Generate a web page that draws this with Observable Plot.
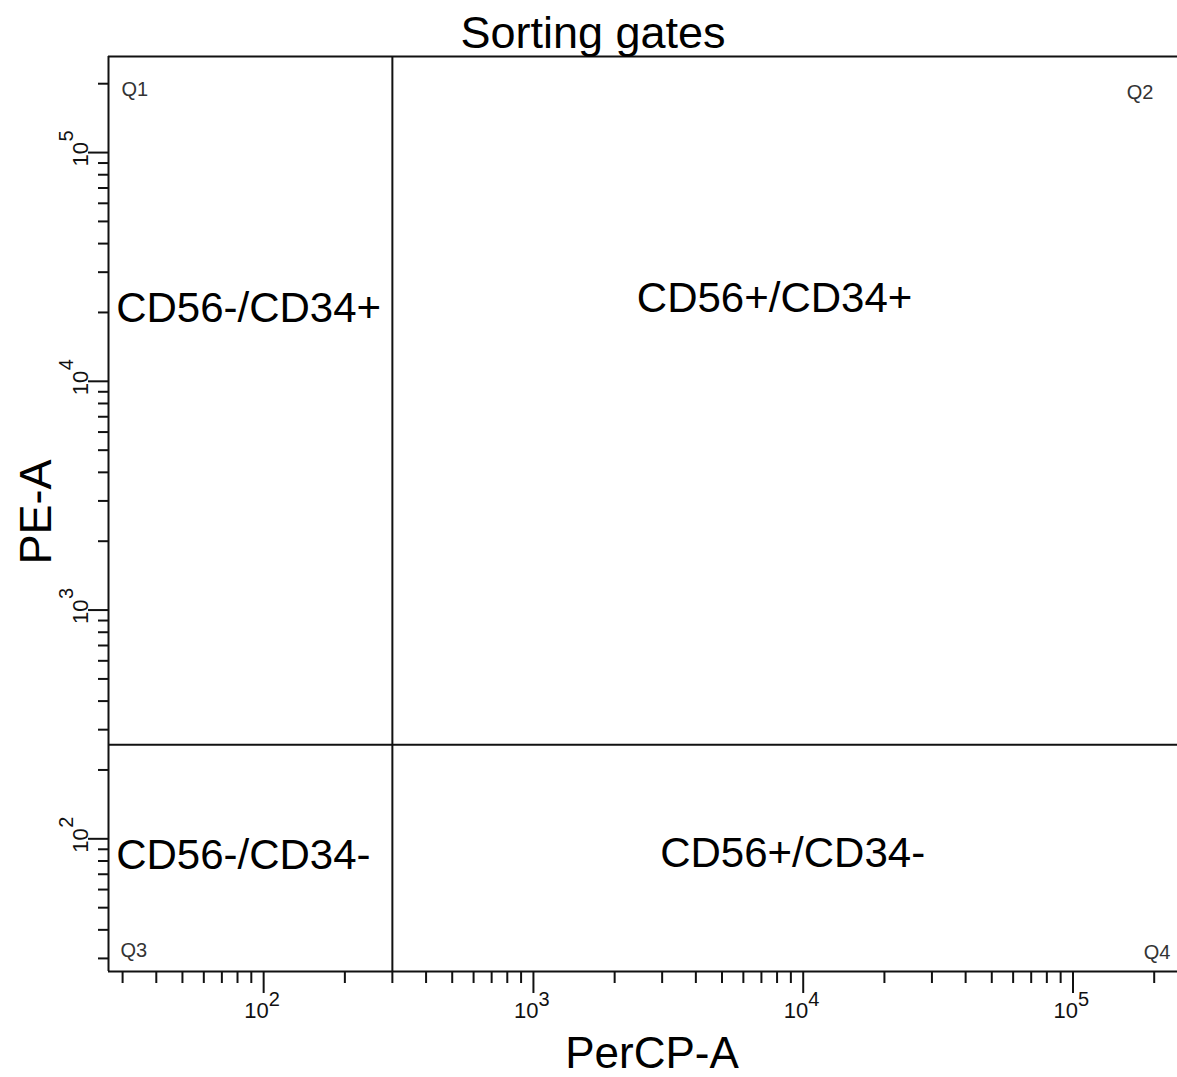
<!DOCTYPE html>
<html>
<head>
<meta charset="utf-8">
<script src="https://cdn.jsdelivr.net/npm/d3@7"></script>
<script src="https://cdn.jsdelivr.net/npm/@observablehq/plot@0.6"></script>
<style>
  html, body { margin: 0; padding: 0; background: #fff; }
  #chart svg { display: block; }
  #chart svg g[aria-label="x-axis tick"] path,
  #chart svg g[aria-label="y-axis tick"] path { stroke-width: 2; }
</style>
</head>
<body>
<div id="chart"></div>
<script>
// Axis ranges (log scales, fluorescence intensity)
const xDomain = [26.6, 244000];
const yDomain = [26.3, 263000];

// Quadrant gate thresholds
const gateX = 300;   // PerCP-A
const gateY = 258;   // PE-A

// Decade (major) and minor tick values
const xMajorTicks = [100, 1000, 10000, 100000];
const yMajorTicks = [100, 1000, 10000, 100000];
const xMinorTicks = [30, 40, 50, 60, 70, 80, 90,
  200, 300, 400, 500, 600, 700, 800, 900,
  2000, 3000, 4000, 5000, 6000, 7000, 8000, 9000,
  20000, 30000, 40000, 50000, 60000, 70000, 80000, 90000,
  200000];
const yMinorTicks = [30, 40, 50, 60, 70, 80, 90,
  200, 300, 400, 500, 600, 700, 800, 900,
  2000, 3000, 4000, 5000, 6000, 7000, 8000, 9000,
  20000, 30000, 40000, 50000, 60000, 70000, 80000, 90000,
  200000];

// Population names placed inside each quadrant (anchor in data units)
const populationNames = ["CD56-/CD34+", "CD56+/CD34+", "CD56-/CD34-", "CD56+/CD34-"];
const populationX = [28.4, 7830, 28.4, 9140];
const populationY = [20800, 23000, 84.3, 86];
const populationAnchor = ["start", "middle", "start", "middle"];

// Quadrant names in the corners
const quadrantNames = ["Q1", "Q2", "Q3", "Q4"];

const populations = populationNames.map((name, i) => ({
  name, x: populationX[i], y: populationY[i], anchor: populationAnchor[i]
}));
const leftPopulations = populations.filter(d => d.anchor === "start");
const rightPopulations = populations.filter(d => d.anchor === "middle");

const ink = "#111";
const font = "'Liberation Sans', Arial, sans-serif";

const chart = Plot.plot({
  width: 1177,
  height: 1077,
  marginLeft: 108,
  marginRight: 0,
  marginTop: 56,
  marginBottom: 106,
  style: { fontFamily: font, background: "#fff", color: ink },
  x: { type: "log", domain: xDomain, axis: null, label: null },
  y: { type: "log", domain: yDomain, axis: null, label: null },
  marks: [
    // plot border (top, left, bottom)
    Plot.ruleY([yDomain[1]], { stroke: ink, strokeWidth: 2 }),
    Plot.ruleX([xDomain[0]], { stroke: ink, strokeWidth: 2 }),
    Plot.ruleY([yDomain[0]], { stroke: ink, strokeWidth: 2 }),

    // quadrant gates
    Plot.ruleX([gateX], { stroke: ink, strokeWidth: 2 }),
    Plot.ruleY([gateY], { stroke: ink, strokeWidth: 2 }),

    // x axis ticks
    Plot.axisX(xMinorTicks, { anchor: "bottom", tickSize: 12, tickFormat: () => "", strokeWidth: 2, stroke: ink, label: null }),
    Plot.axisX(xMajorTicks, { anchor: "bottom", tickSize: 22, tickFormat: () => "", strokeWidth: 2, stroke: ink, label: null }),
    // y axis ticks
    Plot.axisY(yMinorTicks, { anchor: "left", tickSize: 10, tickFormat: () => "", strokeWidth: 2, stroke: ink, label: null }),
    Plot.axisY(yMajorTicks, { anchor: "left", tickSize: 20, tickFormat: () => "", strokeWidth: 2, stroke: ink, label: null }),

    // x decade labels: "10" with raised exponent
    Plot.text(xMajorTicks, {
      x: d => d, text: () => "10", frameAnchor: "bottom",
      textAnchor: "end", lineAnchor: "bottom", dx: 5, dy: 46, fontSize: 22, fill: ink
    }),
    Plot.text(xMajorTicks, {
      x: d => d, text: d => String(Math.round(Math.log10(d))), frameAnchor: "bottom",
      textAnchor: "start", lineAnchor: "bottom", dx: 5, dy: 34, fontSize: 20, fill: ink
    }),

    // y decade labels, rotated
    Plot.text(yMajorTicks, {
      y: d => d, text: () => "10", frameAnchor: "left", rotate: -90,
      textAnchor: "start", lineAnchor: "bottom", dx: -21, dy: 14, fontSize: 22, fill: ink
    }),
    Plot.text(yMajorTicks, {
      y: d => d, text: d => String(Math.round(Math.log10(d))), frameAnchor: "left", rotate: -90,
      textAnchor: "start", lineAnchor: "bottom", dx: -36, dy: -11, fontSize: 20, fill: ink
    }),

    // population names
    Plot.text(leftPopulations, {
      x: "x", y: "y", text: "name", textAnchor: "start",
      lineAnchor: "middle", fontSize: 42, fill: "#000"
    }),
    Plot.text(rightPopulations, {
      x: "x", y: "y", text: "name", textAnchor: "middle",
      lineAnchor: "middle", fontSize: 42, fill: "#000"
    }),

    // corner quadrant names
    Plot.text([quadrantNames[0]], { text: d => d, frameAnchor: "top-left", textAnchor: "start", lineAnchor: "top", dx: 13, dy: 25, fontSize: 20, fill: "#333" }),
    Plot.text([quadrantNames[1]], { text: d => d, frameAnchor: "top-right", textAnchor: "end", lineAnchor: "top", dx: -24, dy: 28, fontSize: 20, fill: "#333" }),
    Plot.text([quadrantNames[2]], { text: d => d, frameAnchor: "bottom-left", textAnchor: "start", lineAnchor: "bottom", dx: 12, dy: -15, fontSize: 20, fill: "#333" }),
    Plot.text([quadrantNames[3]], { text: d => d, frameAnchor: "bottom-right", textAnchor: "end", lineAnchor: "bottom", dx: -7, dy: -13, fontSize: 20, fill: "#333" }),

    // title
    Plot.text(["Sorting gates"], {
      text: d => d, frameAnchor: "top", textAnchor: "middle", lineAnchor: "bottom",
      dx: -50, dy: -9, fontSize: 45, fill: "#000"
    }),

    // axis titles
    Plot.text(["PerCP-A"], {
      text: d => d, frameAnchor: "bottom", textAnchor: "middle", lineAnchor: "bottom",
      dx: 9, dy: 96, fontSize: 44, fill: "#000"
    }),
    Plot.text(["PE-A"], {
      text: d => d, frameAnchor: "left", rotate: -90, textAnchor: "middle", lineAnchor: "bottom",
      dx: -58, dy: -2, fontSize: 45, fill: "#000"
    })
  ]
});

document.getElementById("chart").appendChild(chart);
</script>
</body>
</html>
